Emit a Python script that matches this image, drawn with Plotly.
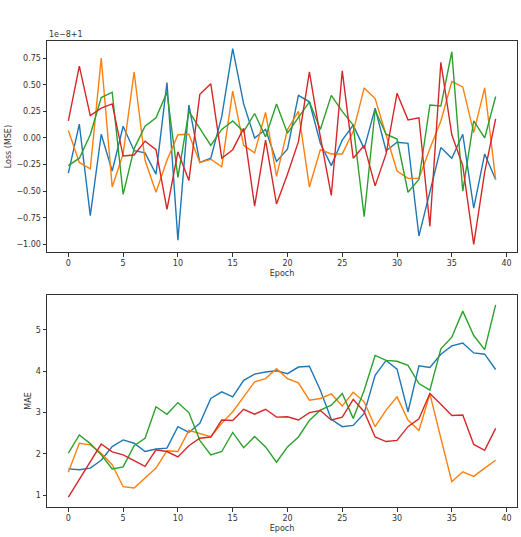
import plotly.graph_objects as go
from plotly.subplots import make_subplots

epochs = list(range(40))

# Loss (MSE), shown as offset from 1 in units of 1e-8
loss_blue = [-0.33, 0.13, -0.73, 0.035, -0.31, 0.11, -0.12, -0.14, -0.34, 0.52,
             -0.96, 0.31, -0.23, -0.19, 0.2, 0.84, 0.32, 0.0, 0.08, -0.22,
             -0.105, 0.40, 0.34, -0.05, -0.26, -0.02, 0.12, -0.10, 0.28, -0.12,
             -0.04, -0.05, -0.92, -0.51, -0.09, -0.19, 0.035, -0.66, -0.15, -0.39]
loss_orange = [0.07, -0.23, -0.29, 0.75, -0.46, -0.15, 0.62, -0.21, -0.51, -0.21,
               0.03, 0.035, -0.23, -0.20, -0.27, 0.44, -0.07, -0.14, 0.24, -0.36,
               0.08, 0.25, -0.46, -0.11, -0.15, -0.15, 0.06, 0.47, 0.37, 0.03,
               -0.31, -0.38, -0.38, -0.10, 0.16, 0.53, 0.48, 0.05, 0.47, -0.39]
loss_green = [-0.26, -0.19, 0.03, 0.38, 0.43, -0.53, -0.1, 0.11, 0.19, 0.43,
              -0.37, 0.25, 0.09, -0.07, 0.08, 0.16, 0.06, 0.23, 0.01, 0.32,
              0.045, 0.19, 0.34, 0.08, 0.40, 0.25, 0.12, -0.74, 0.26, 0.035,
              -0.01, -0.51, -0.39, 0.31, 0.30, 0.81, -0.50, 0.16, 0.0, 0.39]
loss_red = [0.16, 0.675, 0.21, 0.28, 0.32, -0.17, -0.16, -0.03, -0.11, -0.67,
            -0.13, -0.40, 0.41, 0.51, -0.19, -0.11, 0.09, -0.64, -0.02, -0.62,
            -0.34, -0.035, 0.62, 0.01, -0.54, 0.63, -0.19, -0.07, -0.45, -0.15,
            0.42, 0.17, 0.19, -0.83, 0.71, 0.03, -0.26, -1.0, -0.32, 0.18]

mae_blue = [1.64, 1.62, 1.66, 1.85, 2.18, 2.34, 2.26, 2.06, 2.12, 2.14,
            2.66, 2.52, 2.74, 3.34, 3.50, 3.38, 3.78, 3.93, 3.98, 4.01,
            3.94, 4.10, 4.12, 3.54, 2.84, 2.66, 2.69, 2.98, 3.90, 4.26,
            4.05, 3.02, 4.13, 4.09, 4.41, 4.61, 4.68, 4.44, 4.41, 4.04]
mae_orange = [1.56, 2.26, 2.22, 2.02, 1.74, 1.21, 1.18, 1.42, 1.66, 2.08,
              2.06, 2.57, 2.50, 2.42, 2.74, 3.02, 3.38, 3.74, 3.82, 4.06,
              3.82, 3.72, 3.30, 3.34, 3.45, 3.16, 3.49, 3.26, 2.66, 3.06,
              3.38, 2.82, 2.57, 3.45, 2.38, 1.33, 1.57, 1.46, 1.66, 1.85]
mae_green = [2.02, 2.46, 2.25, 1.98, 1.64, 1.69, 2.20, 2.38, 3.14, 2.96,
             3.24, 3.00, 2.33, 1.98, 2.06, 2.52, 2.15, 2.42, 2.17, 1.80,
             2.17, 2.41, 2.81, 3.06, 3.18, 3.46, 2.86, 3.54, 4.38, 4.26,
             4.24, 4.14, 3.70, 3.54, 4.54, 4.82, 5.45, 4.86, 4.52, 5.60]
mae_red = [0.96, 1.38, 1.81, 2.24, 2.05, 1.98, 1.84, 1.70, 2.10, 2.06,
           1.93, 2.20, 2.38, 2.41, 2.82, 2.81, 3.08, 2.96, 3.08, 2.89,
           2.90, 2.82, 3.00, 3.05, 2.82, 2.89, 3.32, 3.02, 2.41, 2.30,
           2.33, 2.66, 2.85, 3.46, 3.20, 2.93, 2.94, 2.23, 2.09, 2.62]

colors = ["#1f77b4", "#ff7f0e", "#2ca02c", "#d62728"]
loss_series = [loss_blue, loss_orange, loss_green, loss_red]
mae_series = [mae_blue, mae_orange, mae_green, mae_red]

fig = make_subplots(rows=2, cols=1)
for s, c in zip(loss_series, colors):
    fig.add_trace(go.Scatter(x=epochs, y=s, mode="lines", line=dict(color=c, width=1.4),
                             showlegend=False), row=1, col=1)
for s, c in zip(mae_series, colors):
    fig.add_trace(go.Scatter(x=epochs, y=s, mode="lines", line=dict(color=c, width=1.4),
                             showlegend=False), row=2, col=1)

font = dict(family="DejaVu Sans", size=8, color="#333333")
axis_common = dict(showgrid=False, zeroline=False, showline=True, linecolor="#333333",
                   linewidth=1, mirror=True, ticks="outside", ticklen=3.5,
                   tickcolor="#333333", tickfont=font)

fig.update_xaxes(range=[-1.95, 40.95], tickvals=[0, 5, 10, 15, 20, 25, 30, 35, 40],
                 title=dict(text="Epoch", font=font, standoff=3), **axis_common)
fig.update_yaxes(range=[-1.074, 0.911], tickvals=[-1.0, -0.75, -0.5, -0.25, 0.0, 0.25, 0.5, 0.75],
                 tickformat=".2f", title=dict(text="Loss (MSE)", font=font, standoff=3),
                 row=1, col=1, **axis_common)
fig.update_yaxes(range=[0.72, 5.84], tickvals=[1, 2, 3, 4, 5],
                 title=dict(text="MAE", font=font, standoff=3),
                 row=2, col=1, **axis_common)

fig.add_annotation(text="1e\u22128+1", xref="paper", yref="paper", x=0, y=1,
                   xanchor="left", yanchor="bottom", showarrow=False, font=font, yshift=0)

fig.update_layout(width=521, height=537, margin=dict(l=47, r=4, t=41, b=30),
                  plot_bgcolor="white", paper_bgcolor="white",
                  yaxis=dict(domain=[0.5466, 1.0]), yaxis2=dict(domain=[0.0, 0.455]))

fig.write_html("out.html")
